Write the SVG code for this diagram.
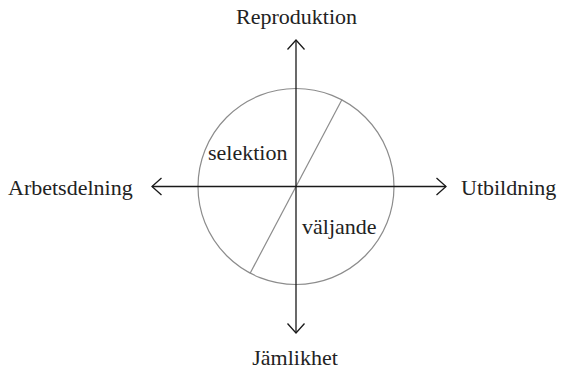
<svg xmlns="http://www.w3.org/2000/svg" width="562" height="370" viewBox="0 0 562 370">
<style>
text{font-family:"Liberation Serif","Times New Roman",serif;font-size:22px;fill:#222}
.axis{stroke:#1a1a1a;stroke-width:1.3;fill:none}
.thin{stroke:#8c8c8c;stroke-width:1.2;fill:none}
</style>
<defs>
<marker id="arr" viewBox="-10 -10 12 20" markerWidth="12" markerHeight="20" refX="0" refY="0" orient="auto" markerUnits="userSpaceOnUse">
<path d="M-9.5,-8.5 L0,0 L-9.5,8.5" fill="none" stroke="#1a1a1a" stroke-width="1.3"/>
</marker>
</defs>
<g id="circle-node">
<circle class="thin" cx="296" cy="186.5" r="98"/>
<line class="thin" x1="342" y1="99.5" x2="250" y2="273.5"/>
</g>
<g id="connectors">
<line class="axis" x1="296" y1="186.5" x2="296" y2="40" marker-end="url(#arr)"/>
<line class="axis" x1="296" y1="186.5" x2="296" y2="333" marker-end="url(#arr)"/>
<line class="axis" x1="296" y1="186.5" x2="152" y2="186.5" marker-end="url(#arr)"/>
<line class="axis" x1="296" y1="186.5" x2="446" y2="186.5" marker-end="url(#arr)"/>
</g>
<g id="reproduktion"><text x="296.5" y="24" text-anchor="middle">Reproduktion</text></g>
<g id="jamlikhet"><text x="295" y="365" text-anchor="middle">Jämlikhet</text></g>
<g id="arbetsdelning"><text x="8" y="195">Arbetsdelning</text></g>
<g id="utbildning"><text x="461" y="195">Utbildning</text></g>
<g id="selektion"><text x="208" y="159.5">selektion</text></g>
<g id="valjande"><text x="302" y="234">väljande</text></g>
</svg>
